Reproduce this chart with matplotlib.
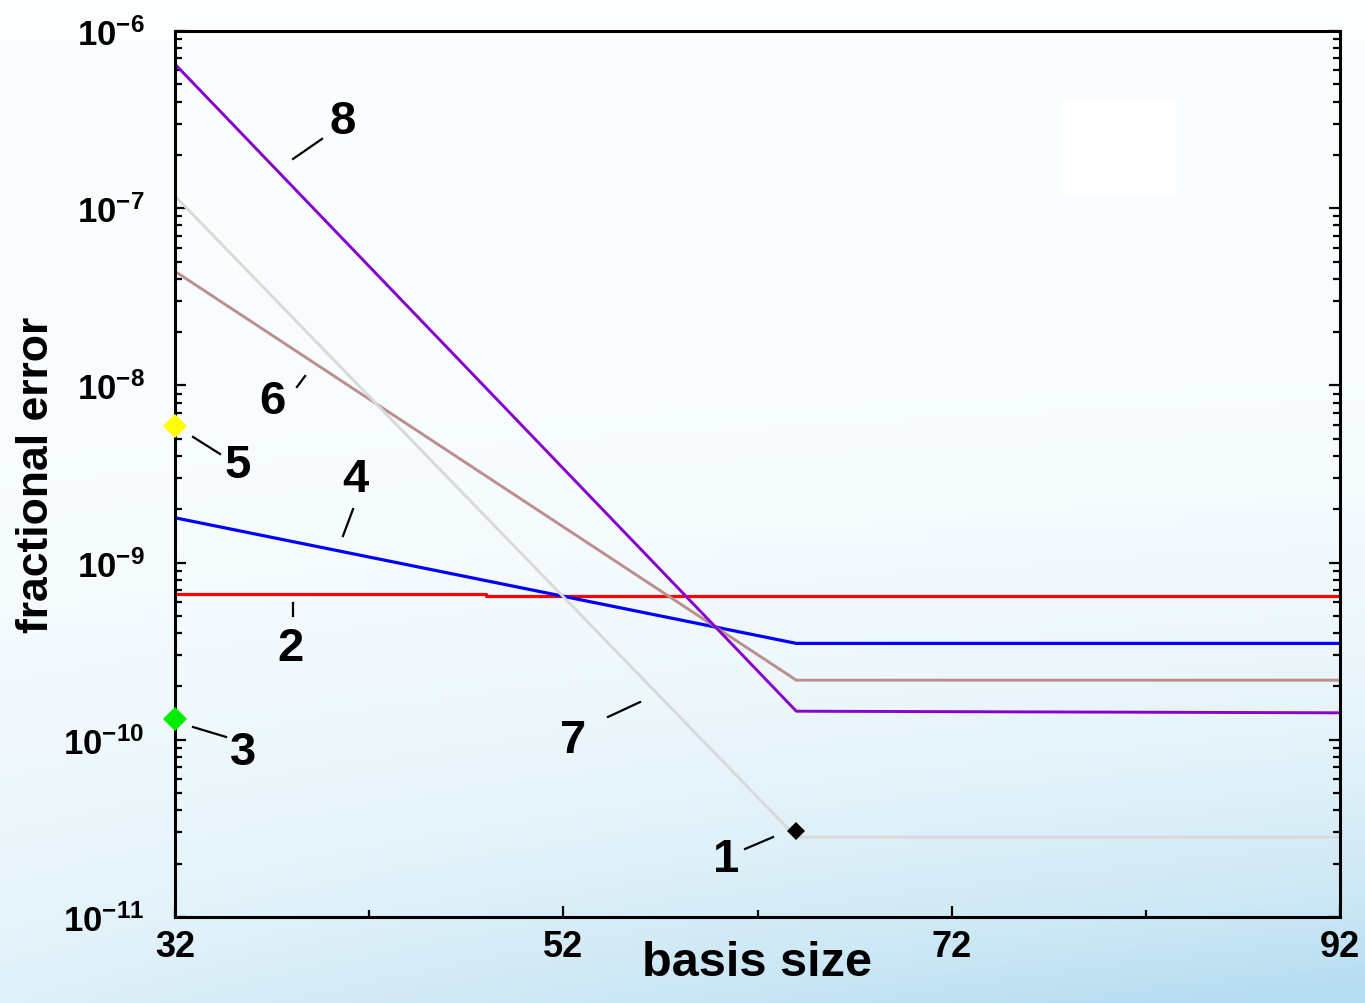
# fractional error vs basis size (log scale), labelled curves 1-8

import numpy as np
import matplotlib.pyplot as plt
from matplotlib.ticker import FixedLocator, LogLocator, NullFormatter

plt.rcParams['font.family'] = ['Liberation Sans', 'DejaVu Sans']
plt.rcParams['font.weight'] = 'bold'
plt.rcParams['mathtext.fontset'] = 'custom'
plt.rcParams['mathtext.rm'] = 'Liberation Sans:bold'
plt.rcParams['mathtext.bf'] = 'Liberation Sans:bold'
plt.rcParams['mathtext.default'] = 'regular'

# data
basis_8 = [32, 64, 92]
err_8 = [6.5e-7, 1.45e-10, 1.42e-10]

basis_7 = [32, 64, 92]
err_7 = [1.17e-7, 2.82e-11, 2.82e-11]

basis_6 = [32, 64, 92]
err_6 = [4.4e-8, 2.17e-10, 2.17e-10]

basis_4 = [32, 64, 92]
err_4 = [1.79e-9, 3.5e-10, 3.5e-10]

basis_2 = [32, 48, 48, 92]
err_2 = [6.65e-10, 6.65e-10, 6.49e-10, 6.49e-10]

point_5 = (32, 5.9e-9)   # yellow
point_3 = (32, 1.31e-10) # green
point_1 = (64, 3.05e-11) # black

xticks = [32, 52, 72, 92]
yticks = [1e-11, 1e-10, 1e-9, 1e-8, 1e-7, 1e-6]
ytick_labels = [r'$10^{-11}$', r'$10^{-10}$', r'$10^{-9}$', r'$10^{-8}$',
                r'$10^{-7}$', r'$10^{-6}$']

# label text, label position, leader line (x0, x1, log y0, log y1)
labels = [
    ('8', (40.65, -6.51), (38.08, 39.57, -6.722, -6.609)),
    ('6', (37.0, -8.09), (38.28, 38.70, -8.009, -7.947)),
    ('5', (35.24, -8.45), (32.93, 34.32, -8.291, -8.387)),
    ('4', (41.27, -8.53), (40.65, 41.17, -8.850, -8.698)),
    ('2', (37.97, -9.48), (38.08, 38.08, -9.228, -9.301)),
    ('3', (35.50, -10.07), (32.93, 34.63, -9.928, -9.984)),
    ('7', (52.50, -10.0), (54.30, 55.95, -9.871, -9.787)),
    ('1', (60.38, -10.67), (61.36, 62.80, -10.616, -10.549)),
]

fig = plt.figure(figsize=(13.65, 10.04), dpi=100)

# pale blue backdrop, whitish at the top, bluer toward the lower right
bg = fig.add_axes([0, 0, 1, 1], zorder=0)
yy, xx = np.mgrid[0:1:300j, 0:1:400j]
t = np.clip(yy ** 4 * (0.35 + 0.65 * xx) + 0.07 * yy, 0, 1)
top = np.array([0.985, 0.995, 1.0])
bot = np.array([0.72, 0.87, 0.945])
img = top[None, None, :] * (1 - t[..., None]) + bot[None, None, :] * t[..., None]
bg.imshow(img, extent=[0, 1, 1, 0], aspect='auto')
bg.add_patch(plt.Rectangle((1062 / 1365, 100 / 1004), 113 / 1365, 96 / 1004,
                           color='white', lw=0))
bg.set_xlim(0, 1)
bg.set_ylim(1, 0)
bg.axis('off')

ax = fig.add_axes([175 / 1365, 1 - 918 / 1004, 1165 / 1365, 886 / 1004], zorder=1)
ax.set_facecolor('none')
ax.set_yscale('log')

ax.plot(basis_2, err_2, color='#ff0000', lw=2.3)
ax.plot(basis_4, err_4, color='#0000ff', lw=2.3)
ax.plot(basis_6, err_6, color='#bc8f8f', lw=2.1)
ax.plot(basis_7, err_7, color='#d9d9d9', lw=2.1)
ax.plot(basis_8, err_8, color='#8800cc', lw=2.1)

ax.plot(*point_5, 'D', color='#ffff00', ms=12, mew=0, clip_on=False, zorder=5)
ax.plot(*point_3, 'D', color='#00ee00', ms=12, mew=0, clip_on=False, zorder=5)
ax.plot(*point_1, 'D', color='black', ms=9, mew=0, clip_on=False, zorder=5)

for txt, (lx, ly), (x0, x1, y0, y1) in labels:
    ax.text(lx, 10 ** ly, txt, fontsize=34, fontweight='bold',
            ha='center', va='center')
    ax.plot([x0, x1], [10 ** y0, 10 ** y1], color='black', lw=1.6)

ax.set_xlim(32, 92)
ax.set_ylim(1e-11, 1e-6)

ax.xaxis.set_major_locator(FixedLocator(xticks))
ax.xaxis.set_minor_locator(FixedLocator([42, 62, 82]))
ax.set_xticklabels([str(v) for v in xticks])
ax.set_yticks(yticks)
ax.set_yticklabels(ytick_labels)
ax.yaxis.set_minor_locator(LogLocator(base=10, subs=np.arange(2, 10)))
ax.yaxis.set_minor_formatter(NullFormatter())

ax.tick_params(axis='both', which='both', direction='in', width=1.6, color='black')
ax.tick_params(axis='y', which='major', length=8, labelsize=25, pad=22,
               right=True)
ax.tick_params(axis='y', which='minor', length=5, right=True)
ax.tick_params(axis='x', which='major', length=8, labelsize=26, pad=9)
ax.tick_params(axis='x', which='minor', length=5)

for s in ax.spines.values():
    s.set_linewidth(2.2)

ax.set_xlabel('basis size', fontsize=35, fontweight='bold')
ax.xaxis.set_label_coords(0.5, -0.026)
ax.set_ylabel('fractional error', fontsize=32, fontweight='bold')
ax.yaxis.set_label_coords(-0.101, 0.5)

fig.savefig('out.png', dpi=100)
